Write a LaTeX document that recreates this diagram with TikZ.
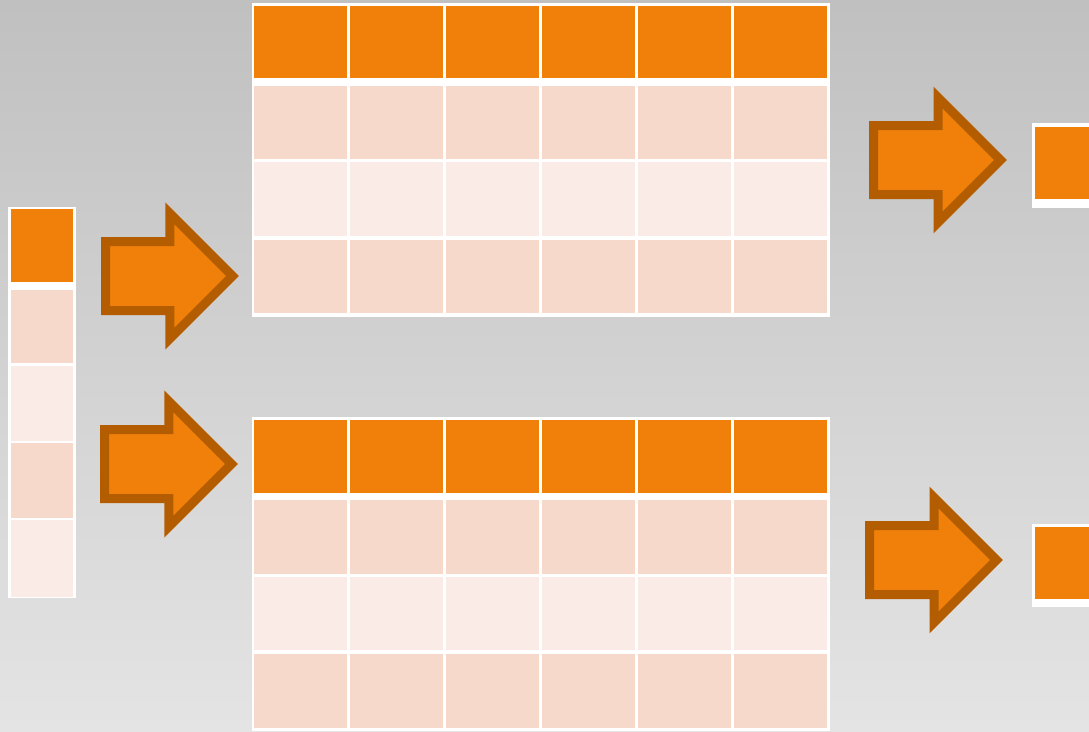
\documentclass[tikz,border=0pt]{standalone}
\usetikzlibrary{shapes.arrows,positioning}
\definecolor{orangecell}{HTML}{F0800A}
\definecolor{orangedark}{HTML}{B35D00}
\definecolor{pinkcell}{HTML}{F7D9CC}
\definecolor{pinklight}{HTML}{FBEBE6}
\definecolor{bgtop}{HTML}{C0C0C0}
\definecolor{bgmid}{HTML}{DADADA}
\definecolor{bgbottom}{HTML}{E4E4E4}

\begin{document}
\begin{tikzpicture}[x=1pt, y=-1pt,
  cell/.style={inner sep=0pt, outer sep=0pt, minimum width=93pt},
  headcell/.style={cell, fill=orangecell, minimum height=72.6pt},
  rowcell/.style={cell, minimum height=73.5pt},
  frame/.style={fill=white, inner sep=0pt, outer sep=0pt},
  blockarrow/.style={single arrow, draw=orangedark, fill=orangecell, line width=9pt,
    single arrow tip angle=90, single arrow head extend=28pt, inner xsep=0pt,
    inner ysep=30pt, minimum height=127pt, minimum width=0pt, outer sep=0pt, anchor=tail}]
  \useasboundingbox (0,0) rectangle (1089,731);
  \clip (0,0) rectangle (1089,731);
  % Background
  \shade[top color=bgtop, middle color=bgmid, bottom color=bgbottom] (0,0) rectangle (1089,731);

  % Left column
  \node[frame, minimum width=67.5pt, minimum height=391.6pt] (colframe) at (42,402.5) {};
  \node[cell, fill=orangecell, minimum width=61.4pt, minimum height=72.4pt] (col0) at (42,245.5) {};
  \node[cell, fill=pinkcell, minimum width=61.4pt, minimum height=72.5pt] (col1) at (42,326.25) {};
  \node[cell, fill=pinklight, minimum width=61.4pt, minimum height=75.5pt] (col2) at (42,403.25) {};
  \node[cell, fill=pinkcell, minimum width=61.4pt, minimum height=74.4pt] (col3) at (42,480.5) {};
  \node[cell, fill=pinklight, minimum width=61.4pt, minimum height=76.4pt] (col4) at (42,558.5) {};

  % Tables
  \foreach \t/\dy in {1/0, 2/414.3} {
    \node[frame, minimum width=578pt, minimum height=313.8pt] (frame\t) at (540.5,159.6+\dy) {};
    \foreach \c in {0,...,5} {
      \node[headcell] (t\t h\c) at (300.5+96*\c,42+\dy) {};
      \node[rowcell, fill=pinkcell] (t\t a\c) at (300.5+96*\c,122.5+\dy) {};
      \node[rowcell, fill=pinklight] (t\t b\c) at (300.5+96*\c,199+\dy) {};
      \node[rowcell, fill=pinkcell] (t\t c\c) at (300.5+96*\c,276.5+\dy) {};
    }
  }

  % Result boxes
  \node[frame, minimum width=67.4pt, minimum height=84.4pt] (resframe1) at (1066,165.5) {};
  \node[cell, fill=orangecell, minimum width=61.4pt, minimum height=72.6pt] (res1) at (1066,163) {};
  \node[frame, minimum width=67.4pt, minimum height=83.3pt] (resframe2) at (1066,565.65) {};
  \node[cell, fill=orangecell, minimum width=61.4pt, minimum height=72pt] (res2) at (1066,563.3) {};

  % Arrows
  \node[blockarrow] (arrA) at (105.5,276) {};
  \node[blockarrow] (arrB) at (104.5,464) {};
  \node[blockarrow] (arrC) at (873.5,160) {};
  \node[blockarrow] (arrD) at (869.5,560) {};
\end{tikzpicture}
\end{document}
